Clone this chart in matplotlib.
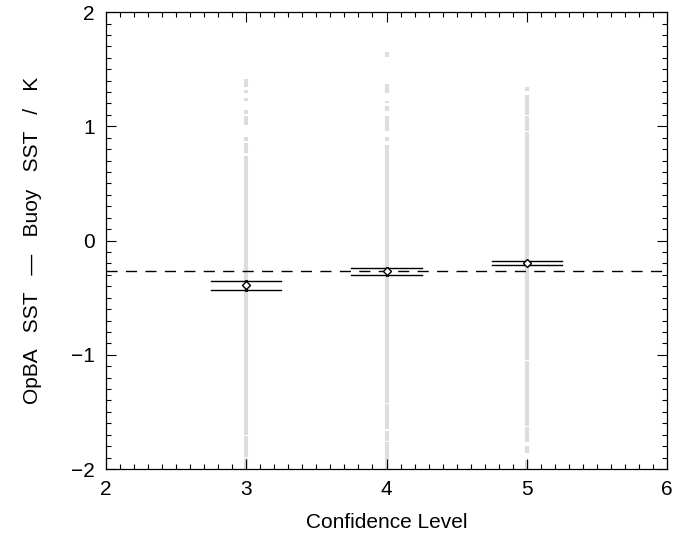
import numpy as np
import matplotlib.pyplot as plt
from matplotlib.ticker import MultipleLocator

# confidence levels and the mean / uncertainty of OpBA - buoy differences
levels = [3, 4, 5]
means = [-0.385, -0.27, -0.195]
upper = [-0.35, -0.24, -0.175]
lower = [-0.43, -0.30, -0.217]
bar_half = 0.25
overall_mean = -0.27

# grey spread of individual matchups (bottom, top) per level
spread = {
    3: [(-2.1, -1.905), (-1.895, -1.715), (-1.705, 0.74), (0.77, 0.85),
        (0.87, 0.91), (1.01, 1.09), (1.11, 1.14), (1.22, 1.25),
        (1.29, 1.32), (1.34, 1.41)],
    4: [(-2.1, -1.765), (-1.755, -1.67), (-1.65, -1.435), (-1.425, 0.84),
        (0.87, 0.91), (0.96, 1.09), (1.13, 1.18), (1.20, 1.22),
        (1.29, 1.37), (1.61, 1.65)],
    5: [(-2.1, -1.92), (-1.86, -1.80), (-1.76, -1.635), (-1.625, -1.055),
        (-1.045, 0.95), (0.96, 1.09), (1.10, 1.27), (1.31, 1.34)],
}

plt.rcParams['font.family'] = ['Liberation Sans', 'DejaVu Sans']
plt.rcParams['font.size'] = 15

fig = plt.figure(figsize=(6.81, 5.49), dpi=100)
ax = fig.add_axes([0.1557, 0.1457, 0.8237, 0.8323])

for lev in levels:
    for lo, hi in spread[lev]:
        ax.plot([lev, lev], [lo, hi], color='#dddddd', lw=3.0,
                solid_capstyle='butt', zorder=1)

ax.axhline(overall_mean, color='black', lw=1.0, dashes=(8, 6), zorder=2)

for lev, m, lo, hi in zip(levels, means, lower, upper):
    ax.plot([lev - bar_half, lev + bar_half], [hi, hi], color='black', lw=1.0, zorder=3)
    ax.plot([lev - bar_half, lev + bar_half], [lo, lo], color='black', lw=1.0, zorder=3)
    ax.plot([lev, lev], [lo, hi], color='black', lw=2.0, zorder=3)
    ax.plot(lev, m, marker='D', ms=4.5, mfc='white', mec='black', mew=1.0, zorder=4)

ax.set_xlim(2, 6)
ax.set_ylim(-2, 2)
ax.xaxis.set_major_locator(MultipleLocator(1))
ax.xaxis.set_minor_locator(MultipleLocator(0.1))
ax.yaxis.set_major_locator(MultipleLocator(1))
ax.yaxis.set_minor_locator(MultipleLocator(0.1))
ax.tick_params(which='both', direction='in', top=True, right=True, width=0.8)
ax.tick_params(which='major', length=7.2, pad=8)
ax.tick_params(which='minor', length=3.6)
for s in ax.spines.values():
    s.set_linewidth(0.9)

ax.set_xlabel('Confidence Level', labelpad=10)
ax.set_ylabel('OpBA   SST   \u2014   Buoy   SST   /   K', labelpad=21)

fig.savefig('out.png', dpi=100)
